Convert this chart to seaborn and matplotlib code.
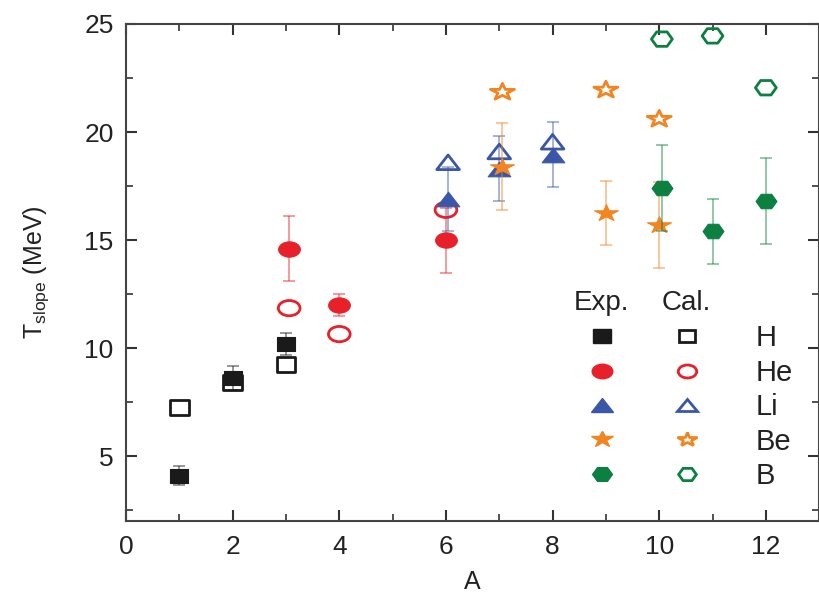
import numpy as np
import pandas as pd
import matplotlib
matplotlib.use("Agg")
import matplotlib.pyplot as plt
from matplotlib.lines import Line2D
from matplotlib.markers import MarkerStyle
from matplotlib.transforms import Affine2D
from matplotlib.ticker import MultipleLocator
import seaborn as sns

# ---- data ----
elements = ["H", "He", "Li", "Be", "B"]
colors = ["#1a1a1a", "#e8202a", "#3a57a7", "#f28522", "#0b8040"]
markers = ["s", "o", "^", "*", "H"]

H_A = [1, 2, 3]
H_exp = [4.1, 8.6, 10.2]
H_err = [0.45, 0.55, 0.5]
H_cal = [7.25, 8.4, 9.25]

He_A = [3.06, 4, 6]
He_exp = [14.6, 12.0, 15.0]
He_err = [1.5, 0.5, 1.5]
He_cal = [11.85, 10.65, 16.4]

Li_A = [6.04, 7, 8]
Li_exp = [16.9, 18.3, 18.95]
Li_err = [1.5, 1.5, 1.5]
Li_cal = [18.6, 19.1, 19.55]

Be_A = [7.06, 9, 10]
Be_exp = [18.4, 16.25, 15.7]
Be_err = [2.0, 1.5, 2.0]
Be_cal = [21.85, 21.95, 20.6]

B_A = [10.05, 11, 12]
B_exp = [17.4, 15.4, 16.8]
B_err = [2.0, 1.5, 2.0]
B_cal = [24.3, 24.45, 22.05]

A_list = [H_A, He_A, Li_A, Be_A, B_A]
exp_list = [H_exp, He_exp, Li_exp, Be_exp, B_exp]
err_list = [H_err, He_err, Li_err, Be_err, B_err]
cal_list = [H_cal, He_cal, Li_cal, Be_cal, B_cal]

# ---- style ----
sns.set_theme(style="ticks")
plt.rcParams["font.family"] = ["Liberation Sans", "DejaVu Sans"]
plt.rcParams["mathtext.fontset"] = "custom"
plt.rcParams["mathtext.rm"] = "Liberation Sans"
plt.rcParams["mathtext.it"] = "Liberation Sans:italic"

# marker shapes (the reference is drawn slightly wide)
stretch = {"s": 1.3, "o": 1.42, "^": 1.55, "*": 1.45, "H": 1.25}
msize = {"s": 10.5, "o": 11.0, "^": 10.5, "*": 12.5, "H": 12.0}


def mstyle(m):
    return MarkerStyle(m, transform=Affine2D().scale(stretch[m], 1.0))


fig = plt.figure(figsize=(8.2, 5.97), dpi=100)
ax = fig.add_axes([0.1537, 0.1273, 0.8453, 0.8325])

rows = []
for el, A, e, s, c in zip(elements, A_list, exp_list, err_list, cal_list):
    for a, ev, sv, cv in zip(A, e, s, c):
        rows.append(dict(el=el, A=a, exp=ev, err=sv, cal=cv))
df = pd.DataFrame(rows)

z = 1
for i, el in enumerate(elements):
    sub = df[df.el == el]
    col = colors[i]
    m = markers[i]
    size = msize[m] ** 2
    ax.errorbar(sub.A, sub.exp, yerr=sub.err, fmt="none", ecolor=col,
                alpha=0.45, elinewidth=1.4, capsize=4.3, capthick=1.4, zorder=z)
    sns.scatterplot(x=sub.A, y=sub.cal, marker=mstyle(m), s=size, facecolors="none",
                    edgecolor=col, linewidth=2.0, ax=ax, zorder=z + 1, legend=False)
    sns.scatterplot(x=sub.A, y=sub.exp, marker=mstyle(m), s=size, color=col,
                    edgecolor=col, linewidth=0.8, ax=ax, zorder=z + 2, legend=False)
    z += 3

ax.set_xlim(0, 13)
ax.set_ylim(2, 25)
ax.xaxis.set_major_locator(MultipleLocator(2))
ax.xaxis.set_minor_locator(MultipleLocator(1))
ax.yaxis.set_major_locator(MultipleLocator(5))
ax.yaxis.set_minor_locator(MultipleLocator(2.5))
ax.tick_params(which="both", direction="in", top=True, right=True,
               color="#333333", labelsize=19, labelcolor="#222222")
ax.tick_params(which="major", length=8, width=1.5)
ax.tick_params(which="minor", length=5, width=1.2)
ax.tick_params(axis="x", which="major", pad=10)
ax.tick_params(axis="y", which="major", pad=9)
for sp in ax.spines.values():
    sp.set_linewidth(1.5)
    sp.set_color("#444444")

ax.set_xlabel("A", fontsize=18, color="#222222", labelpad=8)
ax.set_ylabel(r"T$_{\mathrm{slope}}$ (MeV)", fontsize=18, color="#222222", labelpad=24)

# ---- legend ----
handles = []
labels = []
for i, el in enumerate(elements):
    m = markers[i]
    handles.append(Line2D([], [], linestyle="none", marker=mstyle(m), color=colors[i],
                          markersize=msize[m] * 0.95, markeredgecolor=colors[i]))
    labels.append("")
for i, el in enumerate(elements):
    m = markers[i]
    handles.append(Line2D([], [], linestyle="none", marker=mstyle(m), markerfacecolor="none",
                          markeredgecolor=colors[i], markeredgewidth=2.0,
                          markersize=msize[m] * 0.85))
    labels.append(el)
leg = ax.legend(handles, labels, ncol=2, frameon=False, fontsize=21,
                handlelength=1.0, handletextpad=1.84, columnspacing=0.09,
                labelspacing=0.22, loc="upper left", bbox_to_anchor=(0.665, 0.3956),
                borderaxespad=0, borderpad=0)
for t in leg.get_texts():
    t.set_color("#222222")
ax.text(0.686, 0.4386, "Exp.", transform=ax.transAxes, fontsize=20,
        color="#222222", ha="center", va="center")
ax.text(0.808, 0.4386, "Cal.", transform=ax.transAxes, fontsize=20,
        color="#222222", ha="center", va="center")

fig.savefig("out.png", dpi=100)
